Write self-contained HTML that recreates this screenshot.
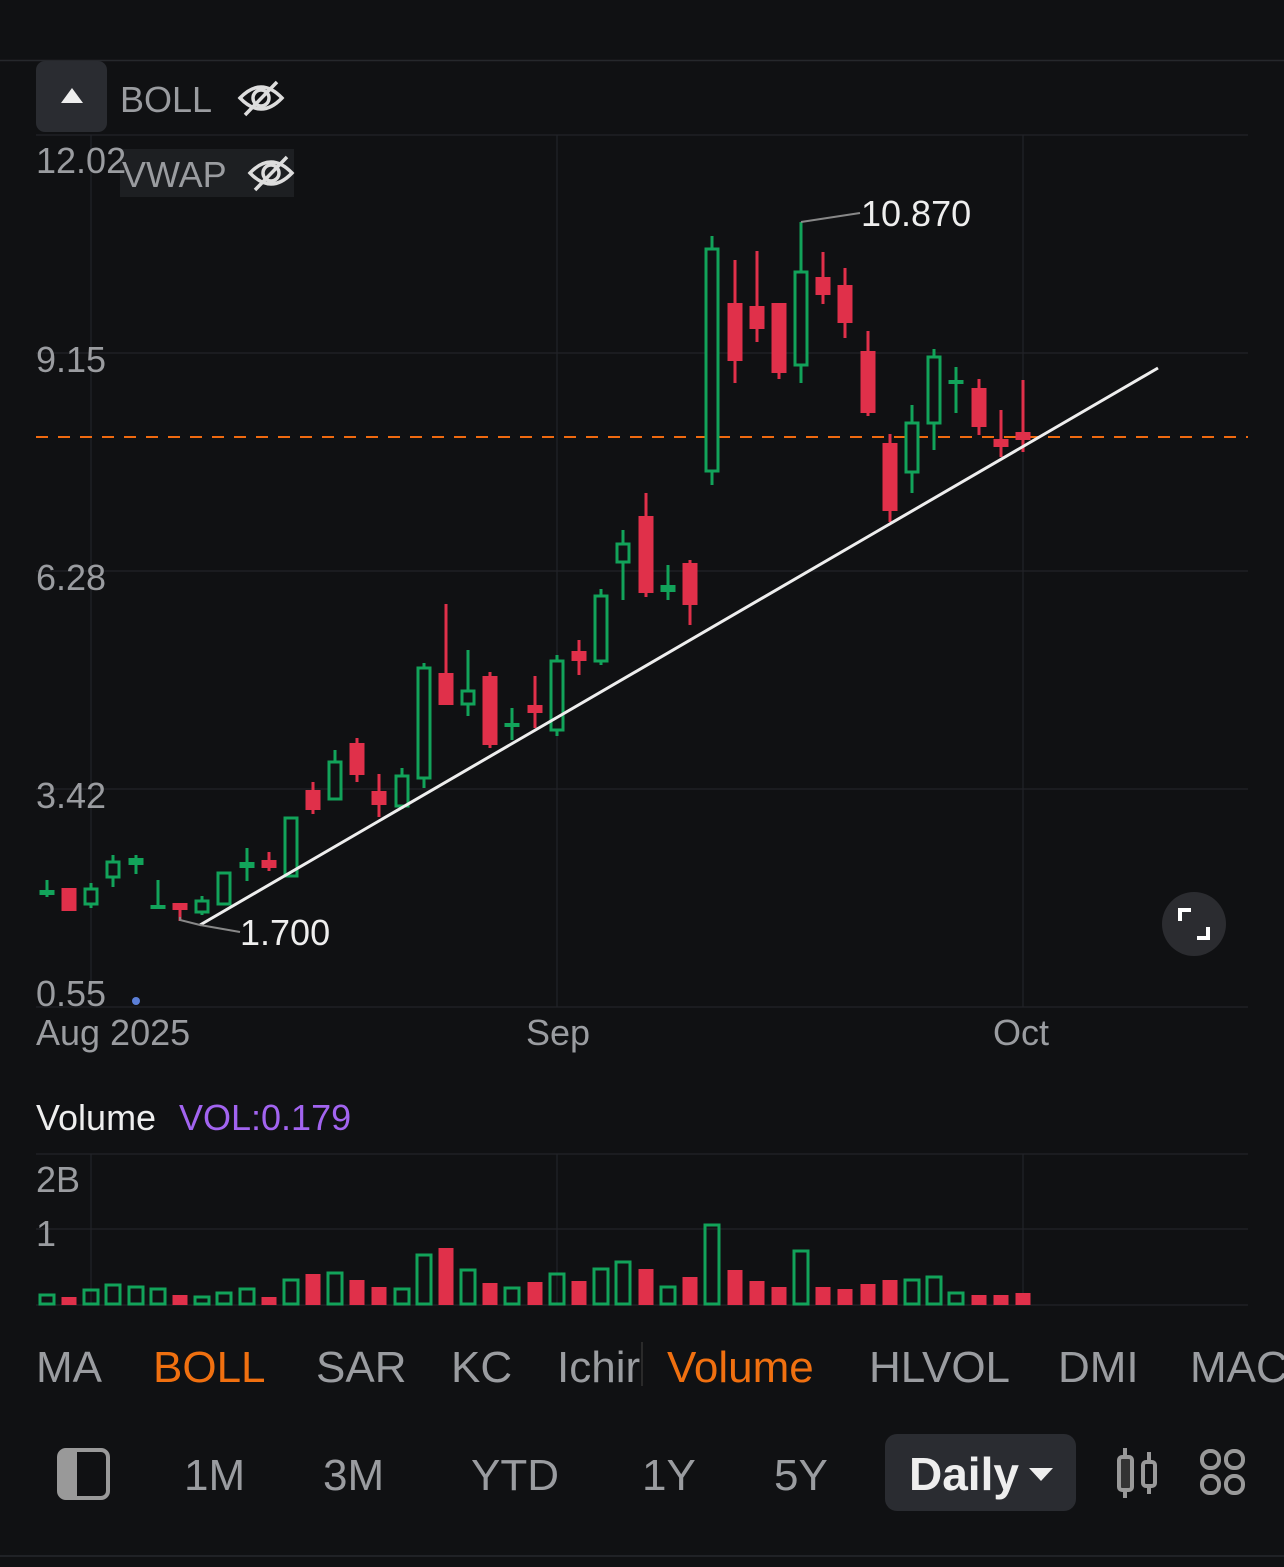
<!DOCTYPE html>
<html><head><meta charset="utf-8"><style>
html,body{margin:0;padding:0;background:#101113;}
body{width:1284px;height:1567px;overflow:hidden;position:relative;font-family:"Liberation Sans",sans-serif;}
svg{position:absolute;left:0;top:0}
</style></head><body>
<svg id="s" width="1284" height="1567" xmlns="http://www.w3.org/2000/svg" font-family="Liberation Sans, sans-serif">
<rect width="1284" height="1567" fill="#101113"/>
<line x1="0" y1="60.5" x2="1284" y2="60.5" stroke="#26282c" stroke-width="1.5"/>
<!-- grid -->
<g stroke="#222428" stroke-width="1.2">
<line x1="36" y1="135" x2="1248" y2="135"/>
<line x1="36" y1="353" x2="1248" y2="353"/>
<line x1="36" y1="571" x2="1248" y2="571"/>
<line x1="36" y1="789" x2="1248" y2="789"/>
<line x1="36" y1="1007" x2="1248" y2="1007"/>
<line x1="91" y1="135" x2="91" y2="1007"/>
<line x1="557" y1="135" x2="557" y2="1007"/>
<line x1="1023" y1="135" x2="1023" y2="1007"/>
<line x1="36" y1="1154" x2="1248" y2="1154"/>
<line x1="36" y1="1229" x2="1248" y2="1229"/>
<line x1="36" y1="1305" x2="1248" y2="1305"/>
<line x1="91" y1="1154" x2="91" y2="1305"/>
<line x1="557" y1="1154" x2="557" y2="1305"/>
<line x1="1023" y1="1154" x2="1023" y2="1305"/>
</g>
<!-- header -->
<rect x="36" y="61" width="71" height="71" rx="9" fill="#2a2c31"/>
<polygon points="61,103 83,103 72,88" fill="#eee"/>
<text x="120" y="112" font-size="36" fill="#9a9ca0">BOLL</text>
<g stroke="#ddd" stroke-width="3.5" fill="none">
<path d="M240 98 Q261 76 282 98 Q261 120 240 98Z"/><circle cx="261" cy="98" r="8"/><line x1="245" y1="115" x2="277" y2="82"/>
</g>
<rect x="120" y="149" width="174" height="48" fill="#1d1f22"/>
<text x="122" y="187" font-size="36" fill="#9a9ca0">VWAP</text>
<g stroke="#ddd" stroke-width="3.5" fill="none">
<path d="M250 173 Q271 151 292 173 Q271 195 250 173Z"/><circle cx="271" cy="173" r="8"/><line x1="255" y1="190" x2="287" y2="157"/>
</g>
<g font-size="36" fill="#9a9ca0">
<text x="36" y="173">12.02</text>
<text x="36" y="372">9.15</text>
<text x="36" y="590">6.28</text>
<text x="36" y="808">3.42</text>
<text x="36" y="1006">0.55</text>
<text x="36" y="1045">Aug 2025</text>
<text x="526" y="1045">Sep</text>
<text x="993" y="1045">Oct</text>
<text x="36" y="1192">2B</text>
<text x="36" y="1246">1</text>
</g>
<circle cx="136" cy="1001" r="4" fill="#5b7fd8"/>
<line x1="36" y1="437" x2="1248" y2="437" stroke="#f06a10" stroke-width="2" stroke-dasharray="12,10"/>
<g id="c"></g>
<line x1="200" y1="925" x2="1158" y2="368" stroke="#eee" stroke-width="3"/>
<polyline points="180,917 180,920 200,925 240,932" stroke="#888" stroke-width="2" fill="none"/>
<text x="240" y="945" font-size="36" fill="#eee">1.700</text>
<polyline points="801,222 860,213" stroke="#888" stroke-width="2" fill="none"/>
<text x="861" y="226" font-size="36" fill="#eee">10.870</text>
<circle cx="1194" cy="924" r="32" fill="#2b2c30"/>
<g stroke="#fff" stroke-width="4" fill="none"><polyline points="1180,921 1180,910 1191,910"/><polyline points="1197,938 1208,938 1208,927"/></g>
<text x="36" y="1130" font-size="36" fill="#eee">Volume</text>
<text x="179" y="1130" font-size="36" fill="#a264f0">VOL:0.179</text>
<!-- indicator tabs -->
<g font-size="44" fill="#9a9ca0">
<text x="36" y="1382">MA</text>
<text x="153" y="1382" fill="#f07010">BOLL</text>
<text x="316" y="1382">SAR</text>
<text x="451" y="1382">KC</text>
<text x="557" y="1382">Ichir</text>
<text x="667" y="1382" fill="#f07010">Volume</text>
<text x="869" y="1382">HLVOL</text>
<text x="1058" y="1382">DMI</text>
<text x="1190" y="1382">MAC</text>
</g>
<line x1="642" y1="1342" x2="642" y2="1386" stroke="#333" stroke-width="1.5"/>
<rect x="59" y="1450" width="49" height="48" rx="7" fill="none" stroke="#999" stroke-width="4"/>
<rect x="61" y="1452" width="16" height="44" fill="#999"/>
<g font-size="44" fill="#9a9ca0">
<text x="184" y="1490">1M</text>
<text x="323" y="1490">3M</text>
<text x="471" y="1490">YTD</text>
<text x="642" y="1490">1Y</text>
<text x="774" y="1490">5Y</text>
</g>
<rect x="885" y="1434" width="191" height="77" rx="12" fill="#2a2c31"/>
<text x="909" y="1490" font-size="46" font-weight="bold" fill="#eee">Daily</text>
<polygon points="1029,1468 1053,1468 1041,1481" fill="#eee"/>
<g stroke="#999" stroke-width="4" fill="none">
<rect x="1119" y="1457" width="13" height="33" rx="3" fill="#333"/><line x1="1125" y1="1448" x2="1125" y2="1457"/><line x1="1125" y1="1490" x2="1125" y2="1498"/>
<rect x="1143" y="1462" width="12" height="24" rx="3"/><line x1="1149" y1="1452" x2="1149" y2="1462"/><line x1="1149" y1="1486" x2="1149" y2="1494"/>
<rect x="1202" y="1451" width="17" height="17" rx="8"/><rect x="1226" y="1451" width="17" height="17" rx="8"/>
<rect x="1202" y="1476" width="17" height="17" rx="8"/><rect x="1226" y="1476" width="17" height="17" rx="8"/>
</g>
<line x1="0" y1="1556" x2="1284" y2="1556" stroke="#26282c" stroke-width="1.5"/>
</svg>
<script>
var G="#12a35a",R="#e0304a";
var d=[
[47,'g',890,895,880,897],[69,'r',888,911,888,911],[91,'g',889,904,883,908],[113,'g',862,877,855,887],[136,'g',858,865,855,874],
[158,'g',905,909,880,909],[180,'r',903,910,903,921],[202,'g',901,912,896,915],[224,'g',873,904,873,904],[247,'g',862,868,848,881],
[269,'r',860,868,852,871],[291,'g',818,876,818,876],[313,'r',790,810,782,814],[335,'g',762,799,750,799],[357,'r',743,775,738,782],
[379,'r',791,805,774,817],[402,'g',776,806,768,809],[424,'g',668,778,663,788],[446,'r',673,705,604,705],[468,'g',691,704,650,716],
[490,'r',676,745,672,748],[512,'g',723,726,708,740],[535,'r',705,713,676,728],[557,'g',661,730,655,736],[579,'r',651,661,640,675],
[601,'g',596,661,589,665],[623,'g',544,562,530,600],[646,'r',516,593,493,597],[668,'g',585,592,565,600],[690,'r',563,605,560,625],
[712,'g',249,471,236,485],[735,'r',303,361,260,383],[757,'r',306,329,251,342],[779,'r',303,373,303,379],[801,'g',272,365,222,383],
[823,'r',277,295,252,304],[845,'r',285,323,268,338],[868,'r',351,413,331,416],[890,'r',443,511,434,522],[912,'g',423,472,405,493],
[934,'g',357,423,349,450],[956,'g',380,383,367,413],[979,'r',388,427,379,435],[1001,'r',439,447,410,457],[1023,'r',432,440,380,452]];
var v=[1295,1297,1290,1285,1287,1289,1295,1297,1293,1289,1297,1280,1274,1273,1280,1287,1289,1255,1248,1270,1283,1288,1282,1274,1281,1269,1262,1269,1287,1277,1225,1270,1281,1287,1251,1287,1289,1284,1280,1280,1277,1293,1295,1295,1293];
var h='';
d.forEach(function(c,i){var x=c[0],col=c[1]=='g'?G:R;
h+='<line x1="'+x+'" y1="'+c[4]+'" x2="'+x+'" y2="'+c[5]+'" stroke="'+col+'" stroke-width="3"/>';
var t=c[2],b=c[3];
if(c[1]=='g'&&b-t>8)h+='<rect x="'+(x-6)+'" y="'+t+'" width="12" height="'+(b-t)+'" fill="#101113" stroke="'+col+'" stroke-width="3"/>';
else h+='<rect x="'+(x-7.5)+'" y="'+t+'" width="15" height="'+Math.max(4,b-t)+'" fill="'+col+'"/>';
var vt=v[i];
if(c[1]=='g')h+='<rect x="'+(x-7)+'" y="'+vt+'" width="14" height="'+(1304-vt)+'" fill="none" stroke="'+col+'" stroke-width="3"/>';
else h+='<rect x="'+(x-7.5)+'" y="'+vt+'" width="15" height="'+(1305-vt)+'" fill="'+col+'"/>';
});
document.getElementById('c').innerHTML=h;
</script>
</body></html>
